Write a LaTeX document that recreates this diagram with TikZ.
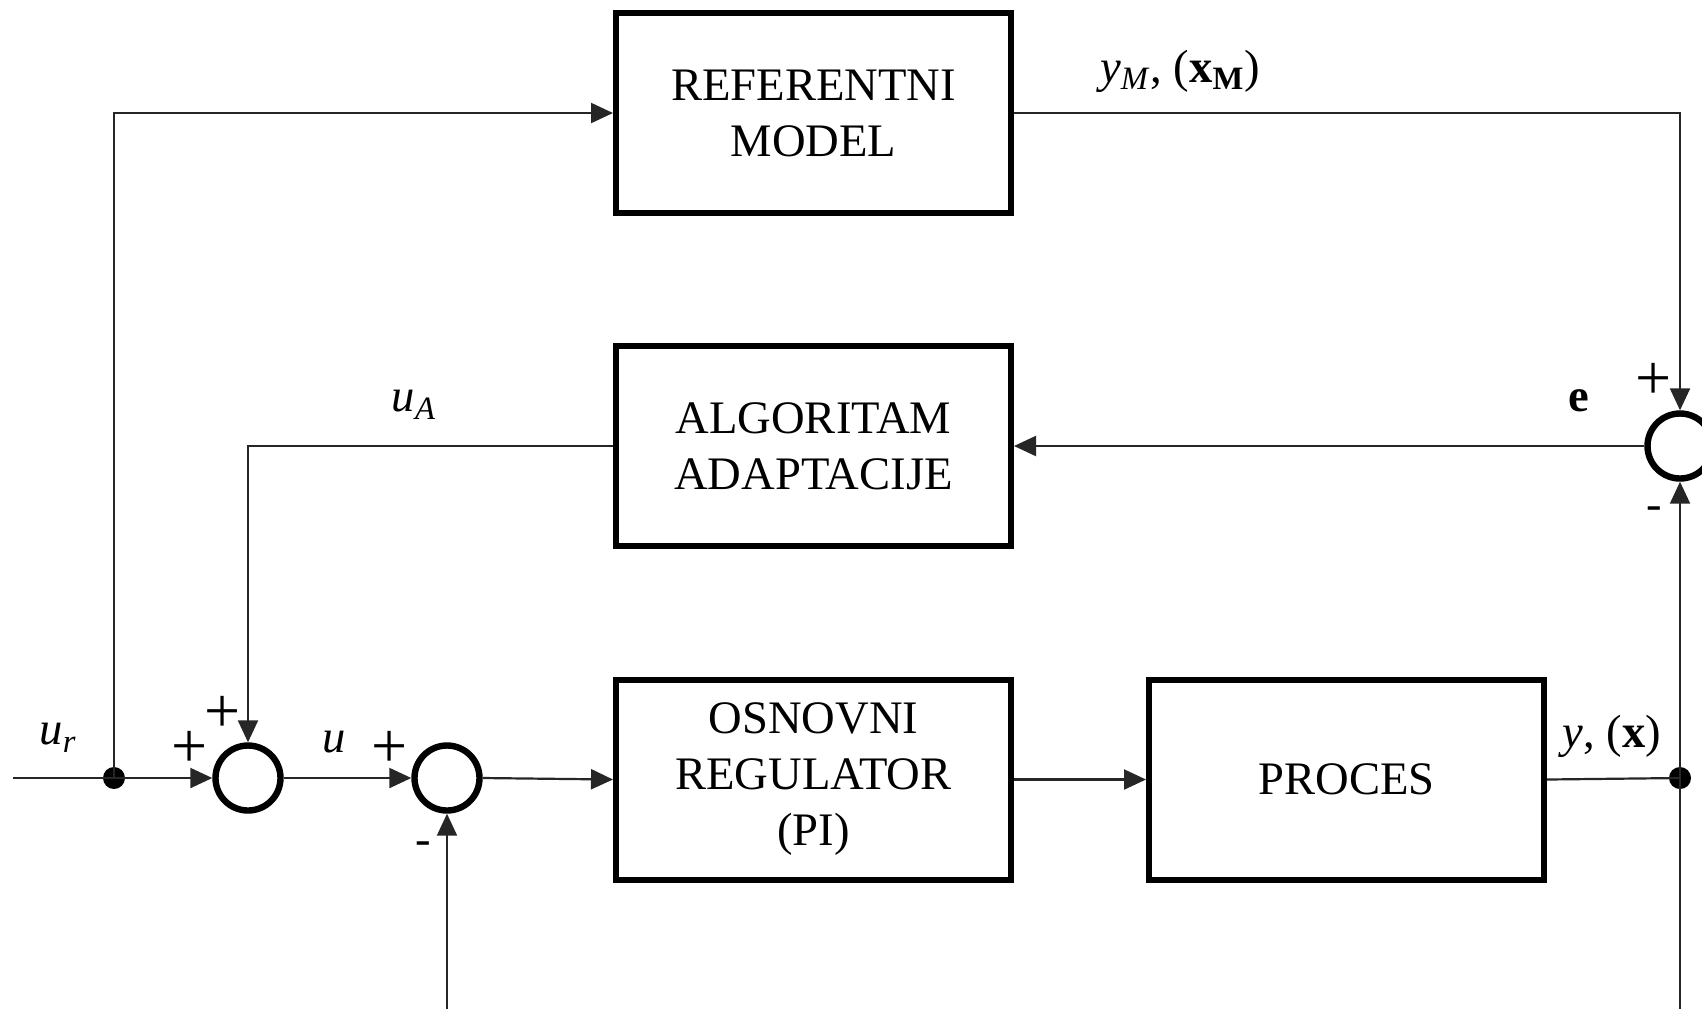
\documentclass[tikz,border=0pt]{standalone}
\usepackage{fontspec}
\setmainfont{Liberation Serif}
\usetikzlibrary{arrows.meta}
\begin{document}
\begin{tikzpicture}[x=0.5pt,y=-0.5pt,
  font=\fontsize{23.3}{28}\selectfont,
  blk/.style={draw=black,line width=3pt,minimum width=197.5pt,minimum height=100pt,align=center,inner sep=0pt},
  sumc/.style={draw=black,circle,line width=3.2pt,minimum size=32.5pt,inner sep=0pt},
  wire/.style={draw=black!85,line width=1.1pt},
  arr/.style={wire,-{Triangle[length=11pt,width=10pt]}},
  sgn/.style={font=\fontsize{32}{32}\selectfont},
  dotn/.style={circle,fill=black,minimum size=11pt,inner sep=0pt}]
\useasboundingbox (0,0) rectangle (1702,1009);
% blocks
\node[blk] (REF) at (813.5,113) {REFERENTNI\\MODEL};
\node[blk] (ALG) at (813.5,446) {ALGORITAM\\ADAPTACIJE};
\node[blk] (OSN) at (813.5,779.5) {OSNOVNI\\REGULATOR\\(PI)};
\node[blk] (PRO) at (1346.5,779.5) {PROCES};
% summing junctions
\node[sumc] (s1) at (248,778) {};
\node[sumc] (s2) at (447,778) {};
\node[sumc] (s3) at (1680,446) {};
% dots and free ends
\node[dotn] (d1) at (114,778) {};
\node[dotn] (d2) at (1680,778) {};
\coordinate (in) at (13,778);
\coordinate (b2) at (447,1009);
\coordinate (bR) at (1680,1009);
% connectors
\draw[wire] (in) -- (d1.center);
\draw[arr] (d1.center) -- (s1.west);
\draw[arr] (d1.center) |- (REF.west);
\draw[arr] (s1.east) -- (s2.west);
\draw[arr] (s2.east) -- (OSN.west);
\draw[arr] (OSN.east) -- (PRO.west);
\draw[wire] (PRO.east) -- (d2.center);
\draw[arr] (bR) -- (s3.south);
\draw[arr] (REF.east) -| (s3.north);
\draw[arr] (s3.west) -- (ALG.east);
\draw[arr] (ALG.west) -| (s1.north);
\draw[arr] (b2) -- (s2.south);
% labels
\node (lym) at (1180,71) {\textit{y}\textsubscript{\textit{M}}, (\textbf{x}\textsubscript{\textbf{M}})};
\node (lua) at (414,405) {\textit{u}\textsubscript{\textit{A}}};
\node (le) at (1579,401) {\textbf{e}};
\node[sgn] (p3a) at (1654,381) {+};
\node (m3) at (1654,513) {-};
\node (lur) at (58,738) {\textit{u}\textsubscript{\textit{r}}};
\node[sgn] (p1a) at (223,714) {+};
\node[sgn] (p1b) at (190,749) {+};
\node (lu) at (334,742) {\textit{u}};
\node[sgn] (p2) at (390,749) {+};
\node (m2) at (423,848) {-};
\node (ly) at (1612,736) {\textit{y}, (\textbf{x})};
\end{tikzpicture}
\end{document}
